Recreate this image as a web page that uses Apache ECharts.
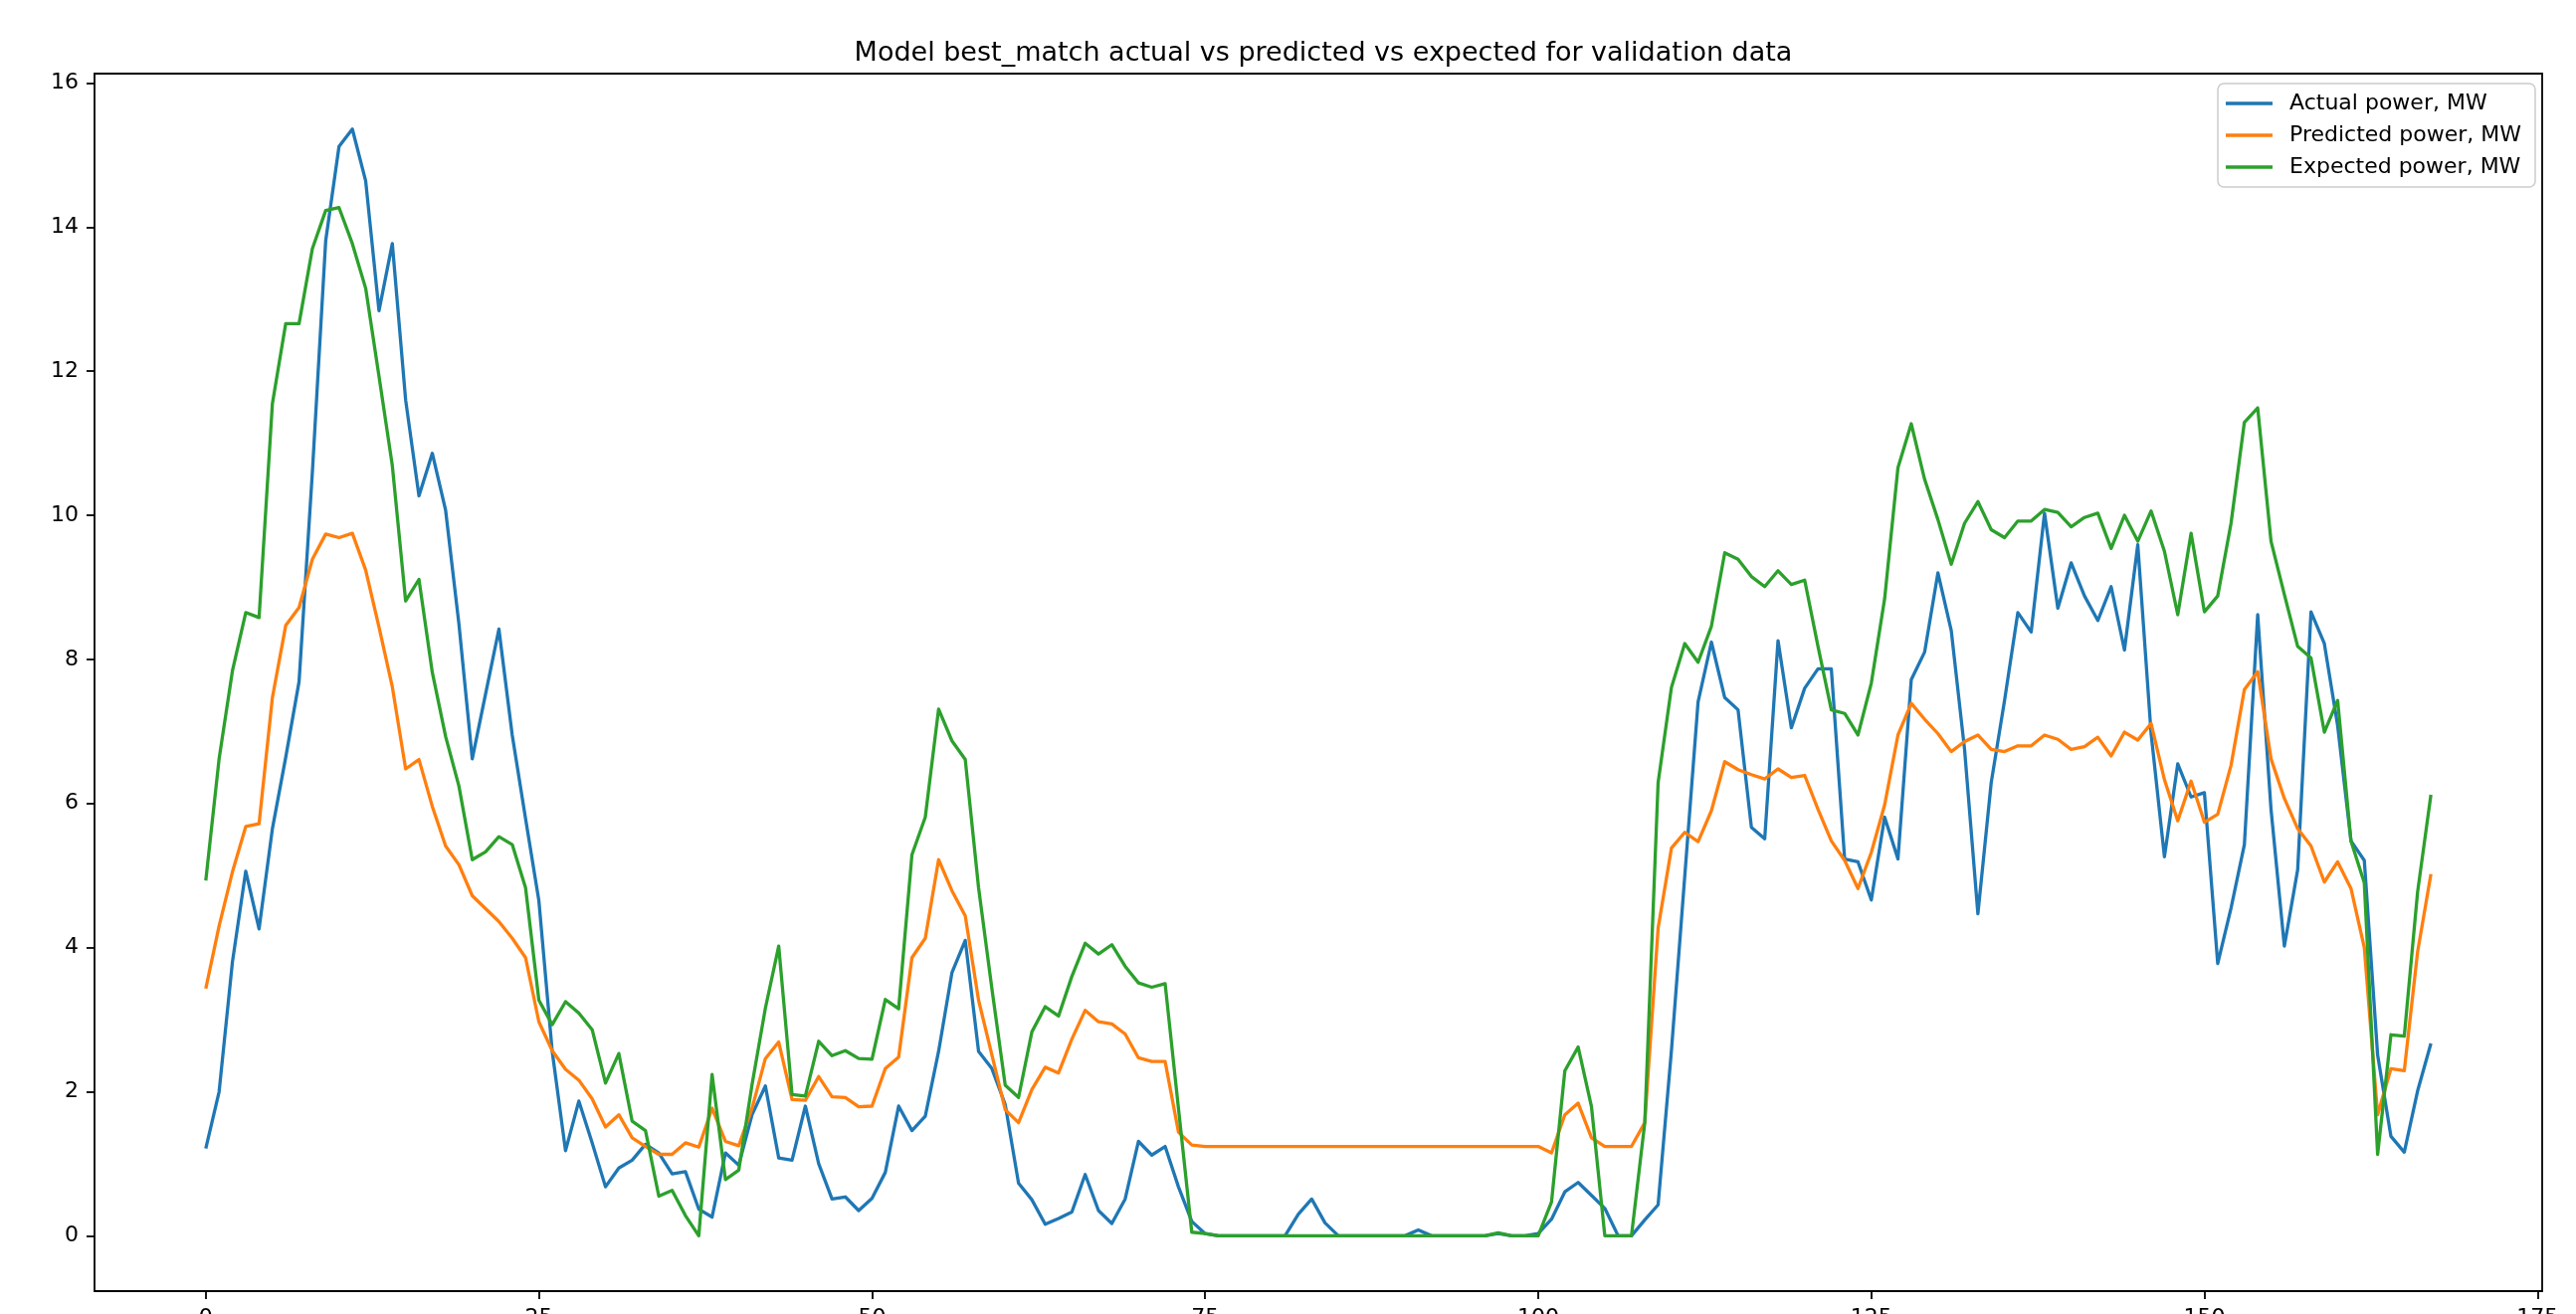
<!DOCTYPE html>
<html>
<head>
<meta charset="utf-8">
<script src="https://cdn.jsdelivr.net/npm/echarts@6/dist/echarts.min.js"></script>
<style>
  html, body { margin: 0; padding: 0; background: #fff; }
  #chart { width: 2589px; height: 1321px; }
</style>
</head>
<body>
<div id="chart"></div>
<script>
// validation sample values, one per time step (index 0..167)
const actualPower = [
    1.21, 2.00, 3.80, 5.06, 4.26, 5.65, 6.64, 7.69, 10.6, 13.81,
    15.12, 15.36, 14.64, 12.84, 13.77, 11.60, 10.27, 10.86, 10.07, 8.49,
    6.62, 7.52, 8.42, 6.95, 5.79, 4.65, 2.56, 1.18, 1.87, 1.29,
    0.68, 0.94, 1.05, 1.27, 1.15, 0.86, 0.89, 0.37, 0.26, 1.15,
    0.98, 1.68, 2.08, 1.08, 1.05, 1.80, 1.00, 0.51, 0.54, 0.35,
    0.52, 0.88, 1.80, 1.46, 1.66, 2.56, 3.65, 4.10, 2.56, 2.32,
    1.82, 0.73, 0.50, 0.16, 0.24, 0.33, 0.85, 0.35, 0.17, 0.51,
    1.31, 1.12, 1.24, 0.68, 0.20, 0.03, 0, 0, 0, 0,
    0, 0, 0.30, 0.51, 0.18, 0, 0, 0, 0, 0,
    0, 0.08, 0, 0, 0, 0, 0, 0.03, 0, 0,
    0.03, 0.23, 0.61, 0.74, 0.56, 0.38, 0, 0, 0.22, 0.43,
    2.57, 4.99, 7.41, 8.24, 7.47, 7.30, 5.67, 5.51, 8.26, 7.05,
    7.60, 7.87, 7.87, 5.23, 5.19, 4.66, 5.81, 5.23, 7.72, 8.10,
    9.20, 8.40, 6.75, 4.47, 6.29, 7.43, 8.65, 8.38, 10.03, 8.71,
    9.34, 8.88, 8.54, 9.01, 8.13, 9.59, 6.97, 5.26, 6.55, 6.09,
    6.15, 3.78, 4.55, 5.43, 8.62, 5.92, 4.02, 5.08, 8.66, 8.22,
    7.08, 5.48, 5.21, 2.51, 1.38, 1.16, 2.01, 2.67
];

const predictedPower = [
    3.43, 4.30, 5.05, 5.68, 5.72, 7.47, 8.47, 8.72, 9.39, 9.74,
    9.69, 9.75, 9.24, 8.45, 7.62, 6.48, 6.61, 5.96, 5.41, 5.15,
    4.72, 4.54, 4.36, 4.13, 3.86, 2.97, 2.57, 2.31, 2.16, 1.90,
    1.51, 1.68, 1.36, 1.24, 1.13, 1.13, 1.29, 1.23, 1.77, 1.31,
    1.25, 1.77, 2.46, 2.69, 1.89, 1.88, 2.21, 1.93, 1.92, 1.79,
    1.80, 2.32, 2.48, 3.86, 4.13, 5.22, 4.79, 4.44, 3.27, 2.51,
    1.75, 1.57, 2.03, 2.34, 2.26, 2.73, 3.13, 2.97, 2.94, 2.80,
    2.47, 2.42, 2.42, 1.44, 1.26, 1.24, 1.24, 1.24, 1.24, 1.24,
    1.24, 1.24, 1.24, 1.24, 1.24, 1.24, 1.24, 1.24, 1.24, 1.24,
    1.24, 1.24, 1.24, 1.24, 1.24, 1.24, 1.24, 1.24, 1.24, 1.24,
    1.24, 1.15, 1.68, 1.84, 1.36, 1.24, 1.24, 1.24, 1.57, 4.27,
    5.38, 5.60, 5.47, 5.90, 6.58, 6.47, 6.40, 6.34, 6.48, 6.36,
    6.39, 5.92, 5.48, 5.21, 4.82, 5.32, 5.98, 6.95, 7.39, 7.17,
    6.97, 6.72, 6.86, 6.95, 6.75, 6.72, 6.80, 6.80, 6.95, 6.89,
    6.75, 6.79, 6.92, 6.66, 6.99, 6.88, 7.11, 6.33, 5.76, 6.31,
    5.74, 5.85, 6.53, 7.58, 7.83, 6.62, 6.07, 5.65, 5.41, 4.91,
    5.19, 4.82, 4.00, 1.68, 2.32, 2.29, 3.94, 5.02
];

const expectedPower = [
    4.93, 6.62, 7.84, 8.65, 8.58, 11.55, 12.66, 12.66, 13.70, 14.23,
    14.27, 13.77, 13.15, 11.93, 10.69, 8.81, 9.11, 7.82, 6.93, 6.24,
    5.22, 5.33, 5.54, 5.43, 4.83, 3.27, 2.93, 3.25, 3.09, 2.86,
    2.12, 2.53, 1.59, 1.46, 0.55, 0.63, 0.28, 0.00, 2.24, 0.78,
    0.91, 2.10, 3.16, 4.02, 1.96, 1.94, 2.70, 2.50, 2.57, 2.46,
    2.45, 3.28, 3.15, 5.29, 5.81, 7.31, 6.87, 6.61, 4.83, 3.43,
    2.09, 1.92, 2.83, 3.18, 3.05, 3.60, 4.06, 3.91, 4.04, 3.74,
    3.51, 3.45, 3.50, 1.77, 0.05, 0.03, 0, 0, 0, 0,
    0, 0, 0, 0, 0, 0, 0, 0, 0, 0,
    0, 0, 0, 0, 0, 0, 0, 0.04, 0, 0,
    0, 0.47, 2.29, 2.62, 1.79, 0, 0, 0, 1.57, 6.29,
    7.61, 8.22, 7.96, 8.46, 9.48, 9.39, 9.15, 9.01, 9.23, 9.04,
    9.10, 8.18, 7.30, 7.25, 6.95, 7.67, 8.84, 10.66, 11.27, 10.50,
    9.94, 9.32, 9.89, 10.19, 9.80, 9.69, 9.92, 9.92, 10.08, 10.04,
    9.84, 9.97, 10.03, 9.54, 10.00, 9.64, 10.06, 9.50, 8.62, 9.75,
    8.66, 8.88, 9.89, 11.29, 11.49, 9.64, 8.90, 8.18, 8.02, 6.99,
    7.43, 5.48, 4.90, 1.13, 2.79, 2.77, 4.77, 6.12
];

const xTicks = [0, 25, 50, 75, 100, 125, 150, 175];
const yTicks = [0, 2, 4, 6, 8, 10, 12, 14, 16];
const legendNames = ['Actual power, MW', 'Predicted power, MW', 'Expected power, MW'];
const colors = ['#1f77b4', '#ff7f0e', '#2ca02c'];

const font = 'DejaVu Sans';

function toPoints(values) {
    return values.map((v, i) => [i, v]);
}

const seriesValues = [actualPower, predictedPower, expectedPower];

const chart = echarts.init(document.getElementById('chart'), null, { renderer: 'canvas' });

chart.setOption({
    animation: false,
    backgroundColor: '#ffffff',
    color: colors,
    title: {
        text: 'Model best_match actual vs predicted vs expected for validation data',
        left: 1325,
        top: 35,
        textAlign: 'center',
        textStyle: { fontFamily: font, fontSize: 27, fontWeight: 'normal', color: '#000' }
    },
    legend: {
        orient: 'vertical',
        right: 41,
        top: 84,
        data: legendNames,
        icon: 'rect',
        itemWidth: 47,
        itemHeight: 3.3,
        itemGap: 10,
        padding: [9, 14, 9, 8],
        backgroundColor: 'rgba(255,255,255,0.8)',
        borderColor: '#cccccc',
        borderWidth: 1.5,
        borderRadius: 6,
        textStyle: { fontFamily: font, fontSize: 22, color: '#000', lineHeight: 22, padding: [0, 0, 0, 12] }
    },
    grid: {
        left: 95,
        right: 34,
        top: 74,
        bottom: 23,
        outerBoundsMode: 'none',
        containLabel: false,
        show: true,
        borderColor: '#000',
        borderWidth: 1.8,
        backgroundColor: 'transparent'
    },
    xAxis: {
        type: 'value',
        min: -8.35,
        max: 175.35,
        axisLine: { show: false, onZero: false },
        splitLine: { show: false },
        axisTick: { show: true, inside: false, length: 8, customValues: xTicks, lineStyle: { color: '#000', width: 1.8 } },
        axisLabel: { show: true, margin: 16, customValues: xTicks, fontFamily: font, fontSize: 22, color: '#000' }
    },
    yAxis: {
        type: 'value',
        min: -0.768,
        max: 16.13,
        axisLine: { show: false, onZero: false },
        splitLine: { show: false },
        axisTick: { show: true, inside: false, length: 8, customValues: yTicks, lineStyle: { color: '#000', width: 1.8 } },
        axisLabel: { show: true, margin: 16, customValues: yTicks, fontFamily: font, fontSize: 22, color: '#000' }
    },
    series: seriesValues.map((values, k) => ({
        name: legendNames[k],
        type: 'line',
        data: toPoints(values),
        showSymbol: false,
        symbol: 'none',
        clip: true,
        lineStyle: { width: 3.3, color: colors[k], join: 'round', cap: 'butt' },
        itemStyle: { color: colors[k] }
    }))
});
</script>
</body>
</html>
